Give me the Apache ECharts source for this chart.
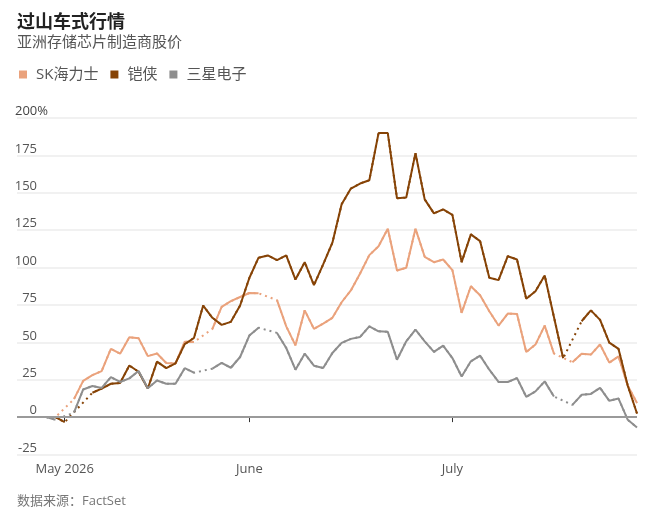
<!DOCTYPE html>
<html>
<head>
<meta charset="utf-8">
<script src="https://cdn.jsdelivr.net/npm/echarts@6/dist/echarts.min.js"></script>
<style>
html,body{margin:0;padding:0;background:#fff;}
#chart{width:645px;height:518px;}
</style>
</head>
<body>
<div id="chart"></div>
<script>
// Trading days (union of Korean and Japanese sessions)
const dates = [
  '2026-04-29','2026-04-30','2026-05-01','2026-05-04','2026-05-06','2026-05-07','2026-05-08',
  '2026-05-11','2026-05-12','2026-05-13','2026-05-14','2026-05-15',
  '2026-05-18','2026-05-19','2026-05-20','2026-05-21','2026-05-22',
  '2026-05-25','2026-05-26','2026-05-27','2026-05-28','2026-05-29',
  '2026-06-01','2026-06-02','2026-06-03','2026-06-04','2026-06-05',
  '2026-06-08','2026-06-09','2026-06-10','2026-06-11','2026-06-12',
  '2026-06-15','2026-06-16','2026-06-17','2026-06-18','2026-06-19',
  '2026-06-22','2026-06-23','2026-06-24','2026-06-25','2026-06-26',
  '2026-06-29','2026-06-30','2026-07-01','2026-07-02','2026-07-03',
  '2026-07-06','2026-07-07','2026-07-08','2026-07-09','2026-07-10',
  '2026-07-13','2026-07-14','2026-07-15','2026-07-16','2026-07-17',
  '2026-07-20','2026-07-21','2026-07-22','2026-07-23','2026-07-24',
  '2026-07-27','2026-07-28','2026-07-29'
];

const seriesNames = ['SK海力士', '铠侠', '三星电子'];

// % change since start; null = market closed
const skHynix = [0, 0, null, 12, 24.2, 28.1, 30.8, 45.7, 42.4, 53.4,
  52.8, 40.8, 42.5, 36.2, 35.8, 50.4, 50.2, null, 59, 73.7,
  77.5, 80.3, 83, 82.8, null, 78.2, 60.7, 48, 71.4, 59,
  62.5, 66.4, 76.8, 84.7, 96, 108.3, 114.3, 126, 98, 99.9,
  126, 107.2, 103.6, 105.4, 98.3, 69.7, 87.5, 81.5, 70.8, 61.2,
  69.2, 69, 43.5, 48.5, 61.2, 42.5, null, 36.7, 42.3, 41.8,
  48.6, 36.4, 40.6, 21, 9.4];

const kioxia = [null, 0, -3.4, null, null, 16.3, 19.1, 22.3, 22.8, 34.5,
  30.3, 19.1, 37.1, 32.8, 36, 48.8, 52.9, 74.6, 66.4, 61.7,
  63.7, 74.6, 93, 106.6, 108.1, 105, 108.1, 92, 103.6, 88.2,
  102.1, 116.6, 142.3, 152.8, 156.2, 158.4, 189.9, 189.9, 146.3, 146.8,
  176.5, 145.6, 136.2, 138.9, 135.2, 103.6, 122.2, 117.7, 93.2, 91.6,
  107.6, 105.4, 79.2, 84.2, 94.7, 67, 39.3, null, 64.1, 71.4,
  65, 49.8, 45.6, 21, 2.4];

const samsung = [0, -1.8, null, 3, 18.5, 20.8, 19.5, 26.7, 23.5, 25.9,
  30.8, 19.3, 24.5, 22.3, 22.3, 32.7, 29.7, null, 32.4, 36.2,
  33, 40.2, 54.5, 59.8, null, 56.3, 46.2, 31.7, 42.4, 34.4,
  32.8, 42.9, 49.6, 52.3, 53.6, 60.7, 57.4, 57, 38.4, 50.7,
  58.5, 50.7, 43.6, 47.8, 39.5, 27.2, 37.3, 41.1, 31.7, 23.5,
  23.5, 26.1, 13.6, 17.2, 23.9, 13.8, null, 8.2, 14.9, 15.5,
  19.6, 10.9, 12.4, -1.8, -7];

const xTickDates = ['2026-05-01', '2026-06-01', '2026-07-01'];
const xTickLabels = ['May 2026', 'June', 'July'];

const colors = ['#eaa27c', '#864306', '#8e8e8e'];
const FONT = '"Open Sans", "Noto Sans CJK SC", sans-serif';
const CJK = '"Noto Sans CJK SC", "Open Sans", sans-serif';

const allValues = [skHynix, kioxia, samsung];
const toData = arr => arr.map((v, i) => [i, v === null ? '-' : v]);
const tickIdx = xTickDates.map(d => dates.indexOf(d));
const labelByIdx = {};
tickIdx.forEach((t, k) => { labelByIdx[t] = xTickLabels[k]; });

const series = [];
// dotted bridges across closed days (drawn beneath)
allValues.forEach((arr, k) => {
  series.push({
    name: seriesNames[k] + '（休市）',
    type: 'line',
    data: toData(arr),
    connectNulls: true,
    showSymbol: false,
    symbol: 'none',
    silent: true,
    z: 2,
    itemStyle: {color: colors[k]},
    lineStyle: {color: colors[k], width: 2, type: [2, 4]},
    markLine: k === 0 ? {
      silent: true, symbol: 'none', label: {show: false},
      lineStyle: {color: '#9a9a9a', width: 2, type: 'solid'},
      data: [{yAxis: 0}]
    } : undefined
  });
});
allValues.forEach((arr, k) => {
  series.push({
    name: seriesNames[k],
    type: 'line',
    data: toData(arr),
    connectNulls: false,
    showSymbol: false,
    symbol: 'none',
    z: 3,
    itemStyle: {color: colors[k]},
    lineStyle: {color: colors[k], width: 2}
  });
});

const chart = echarts.init(document.getElementById('chart'), null, {renderer: 'canvas'});
chart.setOption({
  animation: false,
  backgroundColor: '#ffffff',
  textStyle: {fontFamily: FONT},
  title: [
    {text: '过山车式行情', left: 17, top: 12, padding: 0,
     textStyle: {fontFamily: CJK, fontSize: 18, fontWeight: 'bold', color: '#222'}},
    {text: '亚洲存储芯片制造商股价', left: 17, top: 34, padding: 0,
     textStyle: {fontFamily: CJK, fontSize: 15, fontWeight: 'normal', color: '#555'}},
    {text: '数据来源：FactSet', left: 17, top: 495, padding: 0,
     textStyle: {fontFamily: FONT, fontSize: 13, fontWeight: 'normal', color: '#777'}}
  ],
  legend: {
    data: seriesNames,
    left: 19, top: 67, padding: 0,
    icon: 'rect', itemWidth: 8, itemHeight: 8, itemGap: 12,
    textStyle: {fontFamily: FONT, fontSize: 15, color: '#555', padding: [0, 0, 0, 4]}
  },
  grid: {left: 17, right: 8, top: 118, bottom: 63.5, containLabel: false},
  xAxis: {
    type: 'value',
    min: -3.17,
    max: 64,
    axisLine: {show: false},
    splitLine: {show: false},
    axisTick: {show: true, customValues: tickIdx, length: 5, lineStyle: {color: '#333', width: 1}},
    axisLabel: {
      customValues: tickIdx,
      formatter: v => labelByIdx[Math.round(v)] || '',
      margin: 8, fontSize: 13, color: '#555', fontFamily: FONT
    }
  },
  yAxis: {
    type: 'value',
    min: -25, max: 200, interval: 25,
    axisLine: {show: false},
    axisTick: {show: false},
    splitLine: {show: true, lineStyle: {color: '#ededed', width: 1.5}},
    axisLabel: {
      inside: true,
      align: 'right',
      verticalAlign: 'bottom',
      margin: 31,
      formatter: v => v === 200 ? '{n|200}{p|%}' : '{m|' + v + '}',
      rich: {
        n: {fontSize: 13, color: '#444', fontFamily: FONT},
        p: {fontSize: 13, color: '#444', fontFamily: FONT},
        m: {fontSize: 13, color: '#555', fontFamily: FONT, padding: [0, 11, 0, 0]}
      }
    }
  },
  series: series
});
</script>
</body>
</html>
